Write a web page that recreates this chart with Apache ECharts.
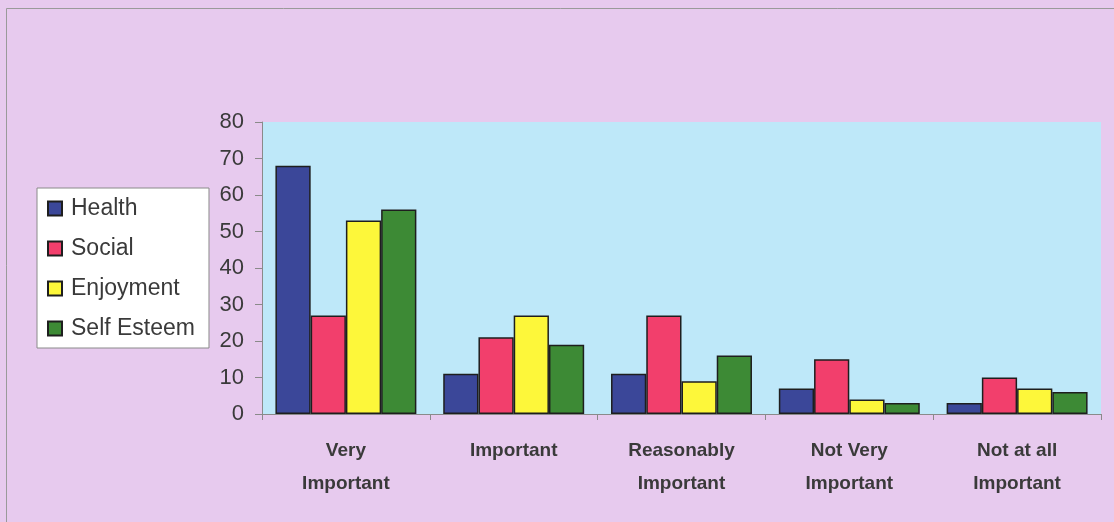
<!DOCTYPE html>
<html>
<head>
<meta charset="utf-8">
<script src="https://cdn.jsdelivr.net/npm/echarts@6/dist/echarts.min.js"></script>
<style>
    html, body { margin: 0; padding: 0; background: #e7caee; }
    #chart { width: 1114px; height: 522px; }
</style>
</head>
<body>
<div id="chart"></div>
<script>
// categories and series values
const categories = ["Very\nImportant", "Important", "Reasonably\nImportant", "Not Very\nImportant", "Not at all\nImportant"];
const health = [68, 11, 11, 7, 3];
const social = [27, 21, 27, 15, 10];
const enjoyment = [53, 27, 9, 4, 7];
const selfEsteem = [56, 19, 16, 3, 6];
const yTicks = [0, 10, 20, 30, 40, 50, 60, 70, 80];

const seriesNames = ["Health", "Social", "Enjoyment", "Self Esteem"];
const seriesData = [health, social, enjoyment, selfEsteem];
const colors = ["#3b4799", "#f23f6c", "#fdf73a", "#3d8a35"];

const chart = echarts.init(document.getElementById("chart"));

const series = seriesNames.map((name, i) => ({
    name,
    type: "bar",
    data: seriesData[i],
    barGap: "0%",
    barCategoryGap: "16%",
    itemStyle: { color: colors[i], borderColor: "#1e1e1e", borderWidth: 1.5 },
    silent: true // no mouse interaction
}));

const option = {
    animation: false,
    backgroundColor: "#e7caee",
    graphic: [{
        type: "rect",
        left: 4,
        top: 6,
        shape: { width: 1120, height: 530 },
        style: { fill: "none", stroke: "#9a9a9a", lineWidth: 1 },
        silent: true
    }],
    grid: {
        left: 262,
        right: 13,
        top: 122,
        bottom: 108,
        show: true,
        backgroundColor: "#bee8f9",
        borderWidth: 0
    },
    legend: {
        orient: "vertical",
        left: 37,
        top: 188,
        padding: [9, 14, 8, 10],
        backgroundColor: "#ffffff",
        borderColor: "#8a8a8a",
        borderWidth: 1,
        itemWidth: 14,
        itemHeight: 14,
        itemGap: 17,
        icon: "rect",
        textStyle: {
            fontFamily: "Liberation Sans, Arial, sans-serif",
            fontSize: 23,
            color: "#3a3a3a",
            padding: [0, 0, 0, 4]
        },
        data: seriesNames
    },
    xAxis: {
        type: "category",
        data: categories,
        axisLine: { lineStyle: { color: "#8a8a8a", width: 1 } },
        axisTick: { show: true, length: 6, lineStyle: { color: "#8a8a8a" } },
        axisLabel: {
            interval: 0,
            margin: 20,
            fontFamily: "Liberation Sans Narrow, Liberation Sans, Arial, sans-serif",
            fontWeight: "bold",
            fontSize: 19,
            lineHeight: 33,
            color: "#3a3a3a"
        }
    },
    yAxis: {
        type: "value",
        min: yTicks[0],
        max: yTicks[yTicks.length - 1],
        interval: 10,
        axisLine: { show: true, lineStyle: { color: "#8a8a8a", width: 1 } },
        axisTick: { show: true, length: 7, lineStyle: { color: "#8a8a8a" } },
        splitLine: { show: false },
        axisLabel: {
            margin: 18,
            fontFamily: "Liberation Sans, Arial, sans-serif",
            fontSize: 22,
            color: "#3a3a3a"
        }
    },
    series
};
chart.setOption(option);
</script>
</body>
</html>
